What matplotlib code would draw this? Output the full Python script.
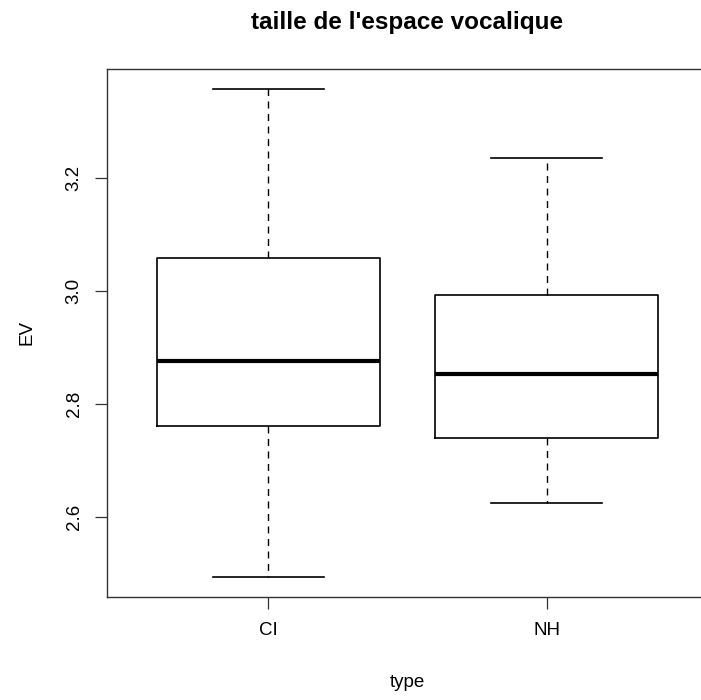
import matplotlib
matplotlib.use("Agg")
import matplotlib.pyplot as plt

plt.rcParams["font.family"] = ["Liberation Sans", "DejaVu Sans"]

# five-number summaries per group
groups  = ["CI", "NH"]
whislo  = [2.494, 2.624]
q1      = [2.761, 2.740]
med     = [2.876, 2.853]
q3      = [3.059, 2.993]
whishi  = [3.358, 3.236]

stats = [
    dict(label=g, whislo=lo, q1=a, med=m, q3=b, whishi=hi)
    for g, lo, a, m, b, hi in zip(groups, whislo, q1, med, q3, whishi)
]

fig = plt.figure(figsize=(7.01, 7.00), dpi=100)
ax = fig.add_axes([107 / 701, (700 - 596.5) / 700, (708 - 107) / 701, (596.5 - 69) / 700])

ax.bxp(
    stats, positions=[1, 2], widths=0.8, showfliers=False,
    boxprops=dict(color="black", linewidth=1.2),
    medianprops=dict(color="black", linewidth=3.0, solid_capstyle="butt"),
    whiskerprops=dict(color="black", linewidth=1.0, linestyle=(0, (5, 4))),
    capprops=dict(color="black", linewidth=1.2),
    capwidths=0.4,
)

span = max(whishi) - min(whislo)
ax.set_ylim(min(whislo) - 0.04 * span, max(whishi) + 0.04 * span)
ax.set_xlim(0.42, 2.58)
ax.set_yticks([2.6, 2.8, 3.0, 3.2])
ax.set_yticklabels(["2.6", "2.8", "3.0", "3.2"], rotation=90, va="center")
ax.set_xticks([1, 2])
ax.set_xticklabels(groups)
ax.tick_params(axis="both", labelsize=13.5, length=8.5, width=0.9, color="#333333")
ax.tick_params(axis="y", pad=9)
ax.tick_params(axis="x", pad=10)
for s in ax.spines.values():
    s.set_color("#333333")
    s.set_linewidth(1.0)

ax.set_ylabel("EV", fontsize=13.5, labelpad=22)
ax.set_xlabel("type", fontsize=13.5, labelpad=25)
ax.set_title("taille de l'espace vocalique", fontsize=17.5, fontweight="bold", pad=29)

fig.savefig("out.png", dpi=100)
